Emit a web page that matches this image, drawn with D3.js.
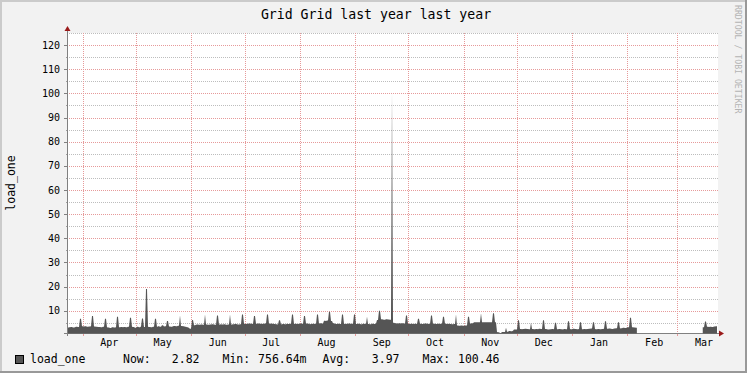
<!DOCTYPE html>
<html><head><meta charset="utf-8">
<script src="https://cdn.jsdelivr.net/npm/d3@7"></script>
<style>
html,body{margin:0;padding:0;background:#f2f2f2;}
svg{display:block;}
text{font-family:"DejaVu Sans Mono",monospace;}
</style></head><body>
<svg id="chart" width="747" height="373"></svg>
<script>
// ---------------- data ----------------
const title = "Grid Grid last year last year";
const yLabel = "load_one";
const seriesName = "load_one";
const watermark = "RRDTOOL / TOBI OETIKER";
const startTime = "2022-03-23T07:00:00Z";   // first daily sample
const dayCount = 365;
// daily load_one averages (null = no data)
const loadOne = [
  3.0, 3.2, 3.3, 3.1, 3.2, 3.4, 3.3,
  6.7, 3.6, 3.5, 3.6, 3.4, 3.5, 3.6,
  7.8, 3.5, 3.4, 3.3, 3.3, 3.2, 3.4,
  6.7, 3.2, 3.1, 2.9, 3.2, 3.1, 3.2,
  7.5, 3.2, 3.3, 3.2, 3.3, 3.2, 3.4,
  7.1, 3.4, 3.3, 3.0, 3.4, 3.2, 3.5,
  6.8, 3.3, 19.0, 3.4, 3.3, 3.2, 3.4,
  6.7, 3.3, 3.6, 3.4, 4.0, 3.5, 3.6,
  5.8, 3.5, 3.4, 3.6, 3.7, 3.6, 3.8,
  8.0, 3.7, 3.6, 3.4, 3.2, 2.9, 2.6,
  6.2, 4.0, 4.2, 4.3, 4.2, 4.3, 4.2,
  8.5, 4.3, 4.2, 4.3, 4.4, 4.3, 4.2,
  8.0, 4.3, 4.4, 4.3, 4.4, 4.2, 4.3,
  8.5, 4.3, 4.4, 4.5, 4.4, 4.3, 4.4,
  8.5, 4.6, 4.5, 4.6, 4.7, 4.6, 4.5,
  7.8, 4.6, 4.7, 4.6, 4.5, 4.6, 4.7,
  8.5, 4.6, 4.7, 4.6, 4.5, 4.4, 4.3,
  6.1, 4.4, 4.5, 4.4, 4.6, 4.5, 4.6,
  8.5, 4.5, 4.6, 4.5, 4.6, 4.7, 4.5,
  7.8, 4.7, 4.6, 4.4, 4.5, 4.6, 4.5,
  8.5, 4.6, 4.8, 4.7, 5.9, 5.8, 6.0,
  9.6, 5.8, 4.8, 4.6, 4.5, 4.6, 4.5,
  8.5, 4.6, 4.5, 4.6, 4.7, 4.5, 4.6,
  8.5, 4.5, 4.6, 4.5, 4.4, 4.6, 4.5,
  7.5, 4.5, 4.4, 4.6, 4.5, 4.7, 6.2,
  10.0, 6.5, 6.4, 6.3, 6.5, 6.4, 6.3,
  100.46, 5.0, 4.8, 4.7, 4.8, 4.7, 4.8, 4.7,
  8.0, 4.6, 4.5, 4.6, 4.5, 4.6, 4.5,
  6.7, 4.6, 4.5, 4.6, 4.7, 4.6, 4.5,
  8.0, 4.5, 4.6, 4.5, 4.6, 4.5, 4.6,
  7.5, 4.6, 4.5, 4.6, 4.5, 4.4, 4.5,
  8.5, 3.9, 3.8, 3.9, 3.8, 3.9, 3.9,
  7.5, 4.7, 4.8, 5.2, 5.3, 5.2, 5.3,
  9.0, 5.3, 5.2, 5.3, 5.3, 5.2, 5.3,
  9.0, 5.3, 1.2, 1.1, 0.76, 1.2, 1.2,
  3.0, 1.3, 1.6, 1.5, 1.7, 2.2, 2.3,
  6.1, 2.5, 2.4, 2.5, 2.6, 2.5, 2.4,
  5.0, 2.5, 2.4, 2.5, 2.4, 2.6, 2.5,
  6.1, 2.5, 2.4, 2.3, 2.4, 2.5, 2.4,
  5.0, 2.4, 2.5, 2.4, 2.3, 2.5, 2.4,
  5.7, 2.5, 2.4, 2.6, 2.5, 2.4, 2.5,
  5.3, 2.4, 2.5, 2.4, 2.5, 2.6, 2.7,
  5.3, 2.5, 2.4, 2.5, 2.4, 2.5, 2.6,
  5.7, 2.6, 2.7, 2.6, 2.5, 2.7, 2.8,
  5.3, 2.7, 2.8, 3.0, 2.9, 3.1, 3.2,
  7.1, 3.2, 3.1, 3.0,
  null, null, null, null, null, null, null, null, null, null,
  null, null, null, null, null, null, null, null, null, null,
  null, null, null, null, null, null, null, null, null, null,
  null, null, null, null, null, null, null,
  3.2, 5.6, 3.4, 3.3, 3.4, 3.3, 3.5, 3.6
];
const yTicks = [10, 20, 30, 40, 50, 60, 70, 80, 90, 100, 110, 120];
const yMinorTicks = [5, 15, 25, 35, 45, 55, 65, 75, 85, 95, 105, 115, 125];
const monthLabels = ["Apr","May","Jun","Jul","Aug","Sep","Oct","Nov","Dec","Jan","Feb","Mar"];
const legendStats = [
  {label: "Now:", value: "2.82"},
  {label: "Min:", value: "756.64m"},
  {label: "Avg:", value: "3.97"},
  {label: "Max:", value: "100.46"}
];

// ---------------- layout ----------------
const W = 747, H = 373;
const L = 67, R = 717, T = 33, B = 333;
const svg = d3.select("#chart");

const start = new Date(startTime);
const end = d3.utcDay.offset(start, dayCount);
const x = d3.scaleUtc().domain([start, end]).range([L, R]);
const y = d3.scaleLinear().domain([0.8, 125]).range([B, T]);
const rows = loadOne.map((v, i) => ({t: d3.utcDay.offset(start, i), v}));

// background & frame shading
svg.append("rect").attr("width", W).attr("height", H).attr("fill", "#f2f2f2");
svg.append("rect").attr("x", 0).attr("y", 0).attr("width", W).attr("height", 2).attr("fill", "#cbcbcb");
svg.append("rect").attr("x", 0).attr("y", 0).attr("width", 2).attr("height", H).attr("fill", "#cbcbcb");
svg.append("rect").attr("x", 0).attr("y", H - 2).attr("width", W).attr("height", 2).attr("fill", "#999");
svg.append("rect").attr("x", W - 2).attr("y", 0).attr("width", 2).attr("height", H).attr("fill", "#999");

// canvas
svg.append("rect").attr("x", L).attr("y", T).attr("width", R - L + 1).attr("height", B - T).attr("fill", "#fff");

const snap = v => Math.round(v) + 0.5;
const grid = svg.append("g").attr("fill", "none").attr("stroke-width", 1);
grid.selectAll(".hmin").data(yMinorTicks).join("line")
  .attr("x1", L).attr("x2", R + 1)
  .attr("y1", d => snap(y(d))).attr("y2", d => snap(y(d)))
  .attr("stroke", "#bdbdbd").attr("stroke-dasharray", "1,1");
grid.selectAll(".hmaj").data(yTicks).join("line")
  .attr("x1", L).attr("x2", R + 1)
  .attr("y1", d => snap(y(d))).attr("y2", d => snap(y(d)))
  .attr("stroke", "#e69a9a").attr("stroke-dasharray", "1,1");
const months = d3.utcMonth.range(d3.utcMonth.ceil(start), end);
grid.selectAll(".vmaj").data(months).join("line")
  .attr("x1", d => snap(x(d))).attr("x2", d => snap(x(d)))
  .attr("y1", T).attr("y2", B)
  .attr("stroke", "#e69a9a").attr("stroke-dasharray", "1,1");

// pixel-column curve: each sample holds its value on every pixel column of its interval,
// neighbouring columns are joined by straight lines (as RRDtool renders areas)
function PixelStep(context) { this._context = context; }
PixelStep.prototype = {
  areaStart() { this._line = 0; this._d = 0; this._ext = null; },
  areaEnd() { this._line = NaN; },
  lineStart() { this._point = 0; },
  _cols(a, b, v) {
    for (let c = Math.ceil(a); c < b; c++) this._context.lineTo(c, v);
  },
  lineEnd() {
    if (this._line === 0 && this._point) {
      const d = this._d;
      if (d > 0) { this._cols(this._x, this._x + d, this._y); this._context.lineTo(this._x + d, this._y); }
      this._ext = this._x + d;
    }
    if (this._line || (this._line !== 0 && this._point === 1)) this._context.closePath();
    this._line = 1 - this._line;
  },
  point(px, py) {
    px = +px; py = +py;
    if (this._line === 1) {            // baseline (reverse pass)
      if (this._point === 0) { this._point = 1; if (this._ext != null) this._context.lineTo(this._ext, py); }
      this._context.lineTo(px, py);
      return;
    }
    if (this._point === 0) { this._point = 1; this._context.moveTo(px, py); }
    else { this._cols(this._x, px, this._y); this._d = px - this._x; }
    this._x = px; this._y = py;
  }
};
const curvePixelStep = ctx => new PixelStep(ctx);

const area = d3.area()
  .defined(d => d.v != null)
  .x(d => x(d.t))
  .y0(B + 0.5)
  .y1(d => y(d.v))
  .curve(curvePixelStep);

svg.append("line").attr("x1", L - 3).attr("x2", R + 2).attr("y1", B + 0.5).attr("y2", B + 0.5)
  .attr("stroke", "#808080");

svg.append("path").datum(rows).attr("d", area).attr("fill", "#555555");

svg.append("line").attr("x1", L + 0.5).attr("x2", L + 0.5).attr("y1", T - 3).attr("y2", B + 3)
  .attr("stroke", "#808080");

// ticks
svg.selectAll(".ytk").data(yTicks).join("line")
  .attr("x1", L - 3).attr("x2", L).attr("y1", d => snap(y(d))).attr("y2", d => snap(y(d)))
  .attr("stroke", "#808080");
svg.selectAll(".ytm").data(yMinorTicks.filter(d => d < 125)).join("line")
  .attr("x1", L - 1).attr("x2", L).attr("y1", d => snap(y(d))).attr("y2", d => snap(y(d)))
  .attr("stroke", "#a0a0a0");
svg.selectAll(".xtk").data(months).join("line")
  .attr("x1", d => snap(x(d))).attr("x2", d => snap(x(d))).attr("y1", B + 1).attr("y2", B + 3)
  .attr("stroke", "#e69a9a");

// arrows
svg.append("path").attr("d", `M${L - 2.5},${T - 2} L${L + 3.5},${T - 2} L${L + 0.5},${T - 7} Z`).attr("fill", "#9a1a1a");
svg.append("path").attr("d", `M${R + 2},${B - 2.5} L${R + 2},${B + 3.5} L${R + 7},${B + 0.5} Z`).attr("fill", "#9a1a1a");

// y tick labels
svg.selectAll(".ylab").data(yTicks).join("text")
  .attr("x", 60).attr("y", d => y(d) + 3.5)
  .attr("text-anchor", "end").attr("font-size", 10).attr("fill", "#000")
  .text(d => d);

// month labels (centred half a month after the month start)
svg.selectAll(".mlab").data(months).join("text")
  .attr("x", d => x(d3.utcDay.offset(d, 15)))
  .attr("y", 346)
  .attr("text-anchor", "middle").attr("font-size", 10).attr("fill", "#000")
  .text((d, i) => monthLabels[i]);

// title
svg.append("text").attr("x", 376).attr("y", 18.5).attr("text-anchor", "middle")
  .attr("font-size", 13.2).attr("fill", "#000").text(title);

// y label
svg.append("text").attr("transform", `translate(14.5,${(T + B) / 2}) rotate(-90)`)
  .attr("text-anchor", "middle").attr("font-size", 11.5).attr("fill", "#000").text(yLabel);

// watermark
svg.append("text").attr("transform", `translate(735,5) rotate(90)`)
  .attr("font-size", 8.2).attr("fill", "#b4b4b4").text(watermark);

// legend
svg.append("rect").attr("x", 15.5).attr("y", 355.5).attr("width", 8).attr("height", 8)
  .attr("fill", "#555555").attr("stroke", "#000");
svg.append("text").attr("x", 30).attr("y", 363).attr("font-size", 11.5).text(seriesName);
const labelX = [123, 222.5, 322.5, 422.5];
const valueX = [199.5, 306.5, 399.5, 499.5];
legendStats.forEach((s, i) => {
  svg.append("text").attr("x", labelX[i]).attr("y", 363).attr("font-size", 11.5).text(s.label);
  svg.append("text").attr("x", valueX[i]).attr("y", 363).attr("font-size", 11.5)
    .attr("text-anchor", "end").text(s.value);
});
</script>
</body></html>
